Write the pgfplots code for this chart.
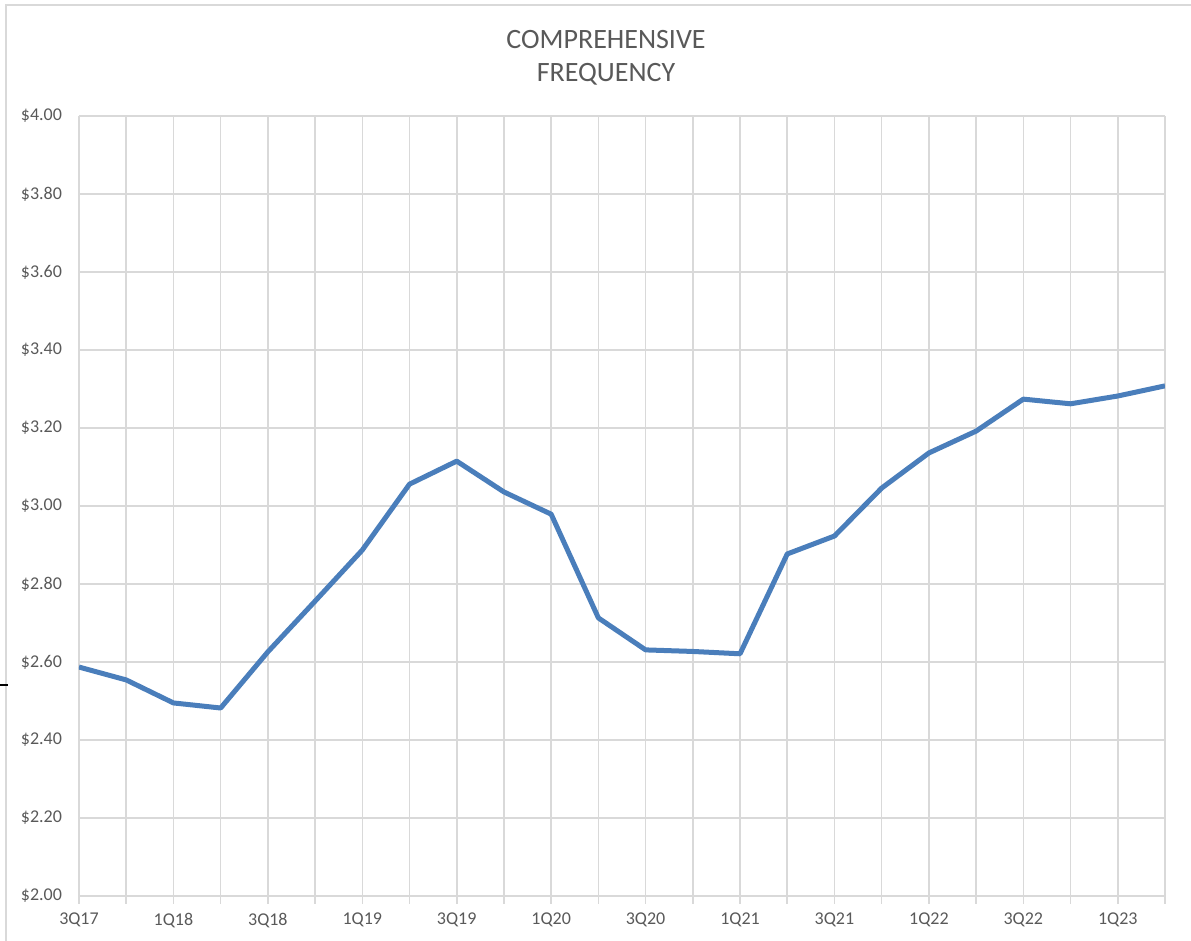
\documentclass[border=0pt]{standalone}
\usepackage{fontspec}
\setmainfont{Carlito}
\usepackage{pgfplots}
\pgfplotsset{compat=1.18}
\definecolor{linebl}{HTML}{4A7EBB}
\definecolor{gridgr}{HTML}{D9D9D9}
\definecolor{txtgr}{HTML}{595959}

\begin{document}
\begin{tikzpicture}
\useasboundingbox (-39.5pt,-22.5pt) rectangle (556pt,448pt);
\draw[gridgr, line width=1pt] (-36.5pt,-30pt) -- (-36.5pt,445.5pt) -- (570pt,445.5pt);
\draw[black, line width=0.8pt] (-39.5pt,105.5pt) -- (-35.5pt,105.5pt);
\begin{axis}[
  at={(0,0)}, anchor=south west,
  scale only axis, width=543pt, height=390pt,
  xmin=0, xmax=23, ymin=2, ymax=4,
  xtick={0,...,23},
  xticklabels={3Q17,,1Q18,,3Q18,,1Q19,,3Q19,,1Q20,,3Q20,,1Q21,,3Q21,,1Q22,,3Q22,,1Q23,},
  ytick={2,2.2,...,4.01},
  yticklabels={\$2.00,\$2.20,\$2.40,\$2.60,\$2.80,\$3.00,\$3.20,\$3.40,\$3.60,\$3.80,\$4.00},
  grid=major, grid style={gridgr, line width=0.8pt},
  axis line style={draw=none},
  x axis line style={draw=gridgr},
  xtick pos=bottom,
  xtick style={gridgr, line width=0.8pt}, tick align=outside, major tick length=4pt,
  ytick style={draw=none},
  tick label style={font=\fontsize{9}{10}\selectfont, text=txtgr},
  yticklabel style={xshift=-1pt},
  xticklabel style={yshift=-1pt},
]
\addplot[color=linebl, line width=2.5pt, line join=round] coordinates {
  (0,2.587)(1,2.554)(2,2.495)(3,2.482)(4,2.626)(5,2.756)
  (6,2.887)(7,3.056)(8,3.115)(9,3.036)(10,2.979)(11,2.713)
  (12,2.631)(13,2.627)(14,2.621)(15,2.877)(16,2.923)(17,3.046)
  (18,3.136)(19,3.192)(20,3.274)(21,3.262)(22,3.282)(23,3.308)
};
\end{axis}
\node[align=center, font=\fontsize{14}{16.5}\selectfont, text=txtgr] at (263.5pt,419pt) {COMPREHENSIVE\\FREQUENCY};
\end{tikzpicture}
\end{document}
